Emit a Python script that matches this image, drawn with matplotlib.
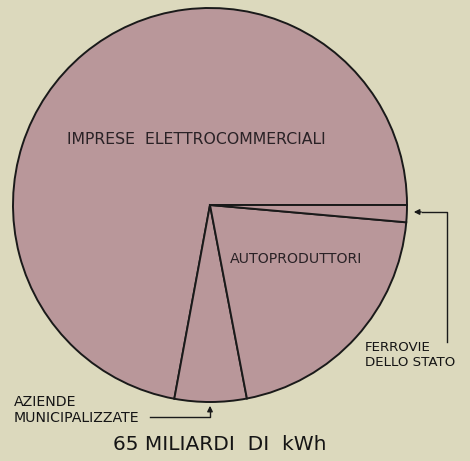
import matplotlib.pyplot as plt

# shares of electricity production (%), total 65 billion kWh
labels = ['IMPRESE  ELETTROCOMMERCIALI', 'AZIENDE\nMUNICIPALIZZATE',
          'AUTOPRODUTTORI', 'FERROVIE\nDELLO STATO']
shares = [72.1, 5.9, 20.6, 1.4]
total_label = '65 MILIARDI  DI  kWh'

W, H = 470, 461
bg = '#dcd9bd'
fill = '#b9979a'

fig = plt.figure(figsize=(W / 100, H / 100), dpi=100, facecolor=bg)
ax = fig.add_axes([0, 0, 1, 1])
ax.set_xlim(0, W)
ax.set_ylim(0, H)
ax.set_aspect('equal')
ax.axis('off')

cx, cy, r = 210, H - 205, 197
wedges, _ = ax.pie(shares, center=(cx, cy), radius=r, startangle=0,
                   counterclock=True, colors=[fill] * len(shares),
                   wedgeprops=dict(edgecolor='#1a1a1a', linewidth=1.4))
ax.set_xlim(0, W)
ax.set_ylim(0, H)

# labels inside the pie
ax.text(196, H - 139, labels[0], ha='center', va='center', fontsize=11.3,
        color='#2a2226')
ax.text(296, H - 259, labels[2], ha='center', va='center', fontsize=10.2,
        color='#2a2226')

# outside labels with leader arrows
ax.text(365, H - 355, labels[3], ha='left', va='center', fontsize=9.6,
        linespacing=1.15, color='#151515')
ax.plot([447, 447, 422], [H - 342, H - 212, H - 212], color='#1a1a1a', lw=1)
ax.annotate('', xy=(411, H - 212), xytext=(424, H - 212),
            arrowprops=dict(arrowstyle='-|>', color='#1a1a1a', lw=1,
                            mutation_scale=8))

ax.text(14, H - 410, labels[1], ha='left', va='center', fontsize=10.2,
        linespacing=1.1, color='#151515')
ax.plot([150, 210, 210], [H - 417, H - 417, H - 412], color='#1a1a1a', lw=1)
ax.annotate('', xy=(210, H - 403), xytext=(210, H - 413),
            arrowprops=dict(arrowstyle='-|>', color='#1a1a1a', lw=1,
                            mutation_scale=8))

ax.text(220, H - 445, total_label, ha='center', va='center', fontsize=14.5,
        color='#151515')

fig.savefig('out.png', dpi=100, facecolor=bg)
